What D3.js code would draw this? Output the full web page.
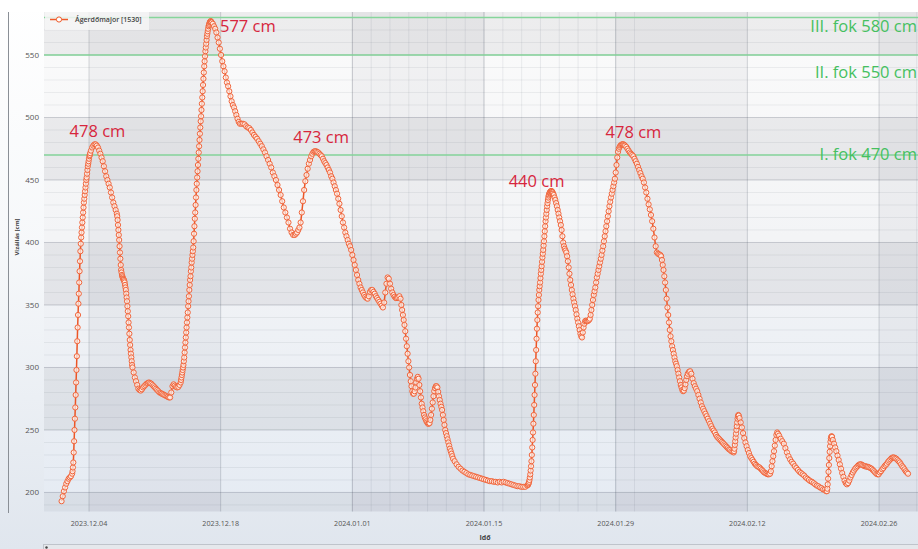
<!DOCTYPE html>
<html><head><meta charset="utf-8">
<script src="https://cdn.jsdelivr.net/npm/d3@7"></script>
<style>html,body{margin:0;padding:0;background:#fff;}svg{display:block;}</style>
</head><body>
<svg id="c" width="918" height="549"></svg>
<script>
// ---------------- DATA ----------------
const seriesName = "Ágerdőmajor [1530]";
const seriesStartUtc = Date.UTC(2023, 11, 1, 0, 0); // hour 0 of the readings
// water level readings: [first hour, hours between readings, values (cm)]
const levelRuns = [
  [2, 3, [193,197,201,204,207,209,211,212,213]],
  [29, 1, [215,217,220,224,232,241,250,259,268,278,288,298,309,321,332,342,351,359,368,377,385,393,399,404,408,412,416,420,424,428,432,435,438,441,444,447,450,452,455,458,461,463,465,467,469,470,471.5]],
  [77, 3, [473.5,476,477.5,478.5,478.5,477.5,476,473.5,471,468,465,461,457,453,450,447,444,440,436,432,429,426,423]],
  [144, 1, [421,418,414,410,406,402,397,392,387,382,378,376,374,373,372,371,370.5,370,369,368,366,364,362,359,356,353,349,345,341,336,332,327,322,318,314,311,308,305,302,300]],
  [186, 3, [296,292,289,286,283,282,281.5,282.5,284,285,286,287,287.5,288,287.5,287,286,285,284,283,282,281,280,279.5,279,278.5,278,277.5,277,276.5,276,276,280,285,286.5,285.5,284.5,284,284.5,286,288]],
  [307, 1, [290,292,294,296,298,300,302,305,308,312,316,320,324,328,332,336,340,344,349,353,357,362,366,370,373,377,380,384,387,390,393,396,401,407,413,419,424,430,436,442,447,452,457,462,467,472,477,482,487,492,497,501,506,511,516,521,526,531,536,541,545,549,553,556,559,562,565,567,569,571,573,574,575,576,576.5,577,577,576.5,576]],
  [388, 3, [575,573,571,568,564,560,555,550,545,541,537,532,528,525,521,517,513,510,508,505,502,499,496.5,495]],
  [461, 4, [495,495,494.5,493,492,491.5,490,488,486,484.5,483,481,479,477,474.5,472,469,466,463,460,456,453,450,446,442,438,433,428,424,420,416,411,408,406,406]],
  [600, 3, [407,408,410,412,416,424,433,442,449,454,459,463,466,469,471,472.5,473,473,472.5,472,471,470,469,467,465,463.5,462,460,458,456,453,451,448,445,442,439,435,431,426,421,416,412,408,405,402,399,397,394,390,386,382,378,374,370,367]],
  [765, 3, [364,362,360,358,356.5,355.5,355,357,360.5,362,362,360.5,359,357,355.5,354,352.5,351,349.5,348,352,360,367,372,371,367,363,360,358,356.5,355.5,355.5,356,357,355]],
  [869, 2, [350,346,342,338,334,329,323,317,311,305,300,294,289,285,281,279,279,281,284,288,291,292.5,291,286,281,276,271,268,265,262,260,258.5,257,256,255,255,255.5,258,262,267,272,277,281,283.5,285,285,284,280.5,277,274,271,268.5,266,262,258,254,250,247.5,245,242.5,240,237.5,235,233,231,229,227]],
  [1005, 5, [225,222.5,220.5,219,217.5,216.5,215.5,214.5,214,213.5,213,212.5,212,211.5,211,210.5,210,209.5,209,209,208.5,208.5,208,208.5,208,208.5,208,207.5,207,206.5,206,205.5,205,205,204.5,204.5,204.5,205.5]],
  [1192, 1, [206,206.5,207.5,208.5,210,212,214.5,217.5,221,225,230,236,242,248,255,262,270,278,286,295,305,314,323,331,338,344,349,354,358,362,365,368,371.5,375,378,381,384.5,388,391,394,397.5,401,405,409,413,417,420,423,426,429,431.5,434,436,437.5,438.5,439.5,440,440.5,441,441,441,441,440.5,440,439]],
  [1258, 2, [438,436,434,431.5,429,426,423,420,417,414,410,405,400,397,395,393.5,392,389,385,380,375,370,366,362,358.5,355,352,349,346,342.5,339,336,333,330,327,325,324]],
  [1332, 2, [328,332,335,337,337.5,337,337,337.5,338,339,342,346,350,354,358,361,364,368,372,375,378,381,384,387,390,393.5,397,401,405,409,413,417,421,425,429,432.5,436,439,442,445,448,451,456,462,468,472.5,475,476.5,477.5,478,478.5,478.5,478.5,478,477.5]],
  [1443, 3, [476.5,475,473.5,472,471,470,469,467,465,463,460.5,458,455.5,453,451,448,444,440,435,430.5,426.5,422,417,411,404,397,392,391,390.5,390]],
  [1532, 2, [389,386,382,378,373,368,362,355,348,342,336,330,325,321,317,314,311,308,305,303,301,298,295,292,289,286,284,282,281,281.5,283.5,286.5,290,293,295]],
  [1603, 3, [296.5,297,295,291,287.5,285,283,281,278,275,272,269,267,265,263,261,259,257,255,253,251,249.5,248,246,244.5,243.5,242.5,241.5,240.5,239.5,238.5,237.5,236.5,235.5,234.5,234,233,232.5,232]],
  [1718, 1, [233,235,238,241,244,247,250,253,256,259,261,262,261.5]],
  [1732, 3, [259.5,256,252,247.5,243.5,240,237,234,231.5,229,227.5,226,224.5,223,222,221,220.5,220,219,218,217,216,215.5,215,214.5,214.5,215]],
  [1812, 2, [217,221,225,229,233,237.5,242,246,248,247]],
  [1833, 4, [245.5,243,241,239,235.5,232,229,226.5,224.5,223,221,219.5,218,216.5,215.5,214.5,213.5,212,211,210,209,208.5,207.5,206.5,205.5,205,204,203.5,202.5,202,201]],
  [1955, 1, [201,203,206.5,211,216.5,222,227.5,232.5,237,240.5,243,244.5,245,244.5]],
  [1970, 3, [242,239,236,233,229.5,226,222.5,219,215.5,212.5,209.5,207.5,206.5,207.5,209.5,212,214,216,217.5,219,220,221,222,222.5,222.5,222,221.5,221,221,220.5,220.5,220,219.5,219,218,217,216,215,214.5,214.5,216,217,218.5,219.5,221,222,223,224.5,225.5,226.5,227.5,228,228,227.5,227,226,225,224,222.5,221,220,218.5,217,216,215]]
];
const xDomainUtc = ["2023-11-29T05:10:00Z", "2024-03-01T03:24:00Z"];
const xTickDates = ["2023-12-04","2023-12-18","2024-01-01","2024-01-15","2024-01-29","2024-02-12","2024-02-26"];
const yDomain = [184.6, 584.4];
const yTicks = [200, 250, 300, 350, 400, 450, 500, 550];
const thresholdValues = [580, 550, 470];
const thresholdLabels = ["III. fok 580 cm", "II. fok 550 cm", "I. fok 470 cm"];
const peakHours = [86, 382, 649, 1251, 1434];
const peakValues = [478, 577, 473, 440, 478];
const peakLabels = ["478 cm", "577 cm", "473 cm", "440 cm", "478 cm"];
const xTitle = "Idő";
const yTitle = "Vízállás [cm]";

// ---------------- LAYOUT ----------------
const W = 918, H = 549;
const P = {left: 44, right: 918, top: 12, bottom: 511.7};
const peakLabelOffsets = [[3,-8,"middle"],[9.5,11,"start"],[6,-8,"middle"],[-14.5,-5.5,"middle"],[10.7,-7,"middle"]];
const thresholdLabelDy = [14.7, 22.8, 5];

const data = [];
levelRuns.forEach(([h0, step, vals]) => vals.forEach((v, i) => {
  data.push({t: new Date(seriesStartUtc + (h0 + i*step)*3600e3), v});
}));

const x = d3.scaleUtc().domain(xDomainUtc.map(s => new Date(s))).range([P.left, P.right]);
const y = d3.scaleLinear().domain(yDomain).range([P.bottom, P.top]);
const tickDates = xTickDates.map(s => new Date(s + "T00:00:00Z"));

const svg = d3.select("#c");
const defs = svg.append("defs");
const pg = defs.append("linearGradient").attr("id","pageGrad").attr("x1",0).attr("y1",0).attr("x2",0).attr("y2",1);
pg.append("stop").attr("offset","0%").attr("stop-color","#ffffff");
pg.append("stop").attr("offset","45%").attr("stop-color","#f6f8fa");
pg.append("stop").attr("offset","100%").attr("stop-color","#e0e6ee");
const plg = defs.append("linearGradient").attr("id","plotGrad").attr("gradientUnits","userSpaceOnUse")
  .attr("x1",0).attr("y1",P.top).attr("x2",0).attr("y2",P.bottom);
plg.append("stop").attr("offset","0%").attr("stop-color","#fbfbfb");
plg.append("stop").attr("offset","45%").attr("stop-color","#f3f4f6");
plg.append("stop").attr("offset","100%").attr("stop-color","#e5ebf3");
defs.append("clipPath").attr("id","clip").append("rect")
  .attr("x",P.left).attr("y",P.top).attr("width",P.right-P.left).attr("height",P.bottom-P.top);

svg.append("rect").attr("width",W).attr("height",H).attr("fill","url(#pageGrad)");
svg.append("rect").attr("width",W).attr("height",P.top).attr("fill","#ffffff");

const g = svg.append("g").attr("clip-path","url(#clip)");
g.append("rect").attr("x",P.left).attr("y",P.top).attr("width",P.right-P.left).attr("height",P.bottom-P.top).attr("fill","url(#plotGrad)");

// vertical bands (odd segments dark)
const xb = [x.domain()[0], ...tickDates, x.domain()[1]];
for (let i = 0; i < xb.length-1; i++) if (i % 2 === 1) {
  g.append("rect").attr("x", x(xb[i])).attr("y", P.top).attr("width", x(xb[i+1]) - x(xb[i])).attr("height", P.bottom-P.top)
    .attr("fill","rgba(40,50,60,0.045)");
}
// horizontal bands (even segments dark)
const yb = [yDomain[0], ...yTicks, yDomain[1]];
for (let i = 0; i < yb.length-1; i++) if (i % 2 === 0) {
  g.append("rect").attr("x", P.left).attr("y", y(yb[i+1])).attr("width", P.right-P.left).attr("height", y(yb[i]) - y(yb[i+1]))
    .attr("fill","rgba(40,50,65,0.065)");
}
// minor grid
const minorX = d3.utcDay.every(2).range(new Date("2023-11-28T00:00:00Z"), x.domain()[1])
  .filter(d => Math.round((d - tickDates[0]) / 864e5) % 2 === 0);
g.selectAll(".mx").data(minorX).enter().append("line")
  .attr("x1", d => x(d)).attr("x2", d => x(d)).attr("y1", P.top).attr("y2", P.bottom)
  .attr("stroke","rgba(70,80,95,0.09)").attr("stroke-width",1);
const minorY = d3.range(190, 590, 10);
g.selectAll(".my").data(minorY).enter().append("line")
  .attr("x1", P.left).attr("x2", P.right).attr("y1", d => y(d)).attr("y2", d => y(d))
  .attr("stroke","rgba(70,80,95,0.08)").attr("stroke-width",1);
// major grid
g.selectAll(".Mx").data(tickDates).enter().append("line")
  .attr("x1", d => x(d)).attr("x2", d => x(d)).attr("y1", P.top).attr("y2", P.bottom)
  .attr("stroke","rgba(60,70,85,0.2)").attr("stroke-width",1);
g.selectAll(".My").data(yTicks).enter().append("line")
  .attr("x1", P.left).attr("x2", P.right).attr("y1", d => y(d)).attr("y2", d => y(d))
  .attr("stroke","rgba(60,70,85,0.16)").attr("stroke-width",1);

// thresholds
g.selectAll(".thr").data(thresholdValues).enter().append("line")
  .attr("x1", P.left).attr("x2", P.right).attr("y1", d => y(d)).attr("y2", d => y(d))
  .attr("stroke","#86d59b").attr("stroke-width",1.5);

// legend
g.append("rect").attr("x",45).attr("y",P.top).attr("width",104).attr("height",18).attr("fill","rgba(246,246,246,0.85)");
g.append("line").attr("x1",50).attr("x2",68).attr("y1",19.5).attr("y2",19.5).attr("stroke","#ef5a2a").attr("stroke-width",1.3);
g.append("circle").attr("cx",59).attr("cy",19.5).attr("r",2.6).attr("fill","#fff").attr("stroke","#ef5a2a").attr("stroke-width",1);
g.append("text").attr("x",75).attr("y",22).text(seriesName)
  .attr("font-family","Open Sans, sans-serif").attr("font-size",7).attr("font-weight",600).attr("fill","#444");

// series
const line = d3.line().x(d => x(d.t)).y(d => y(d.v)).curve(d3.curveMonotoneX);
g.append("path").datum(data).attr("d", line).attr("fill","none").attr("stroke","#ec5526").attr("stroke-width",1.5);
g.selectAll(".pt").data(data).enter().append("circle")
  .attr("cx", d => x(d.t)).attr("cy", d => y(d.v)).attr("r", 2.6)
  .attr("fill","rgba(255,244,238,0.7)").attr("stroke","#f0643a").attr("stroke-width",1);

// peak labels
peakLabels.forEach((txt, i) => {
  const t = new Date(seriesStartUtc + peakHours[i]*3600e3);
  const [dx, dy, anchor] = peakLabelOffsets[i];
  svg.append("text").attr("x", x(t) + dx).attr("y", y(peakValues[i]) + dy).attr("text-anchor", anchor)
    .attr("font-family","Open Sans, sans-serif").attr("font-size",16.5).attr("fill","#d7263d").text(txt);
});
// threshold labels
thresholdLabels.forEach((txt, i) => {
  svg.append("text").attr("x", 917).attr("y", y(thresholdValues[i]) + thresholdLabelDy[i]).attr("text-anchor","end")
    .attr("font-family","Open Sans, sans-serif").attr("font-size",16.5).attr("fill","#45c060").text(txt);
});

// axes labels
svg.selectAll(".yt").data(yTicks).enter().append("text")
  .attr("x", 39).attr("y", d => y(d) + 2.8).attr("text-anchor","end")
  .attr("font-family","Open Sans, sans-serif").attr("font-size",8).attr("fill","#555").text(d => d);
const fmt = d3.utcFormat("%Y.%m.%d");
svg.selectAll(".xt").data(tickDates).enter().append("text")
  .attr("x", d => x(d)).attr("y", 525.5).attr("text-anchor","middle")
  .attr("font-family","Open Sans, sans-serif").attr("font-size",7.2).attr("fill","#555").text(d => fmt(d));
svg.append("text").attr("x", 485).attr("y", 539.5).attr("text-anchor","middle")
  .attr("font-family","Open Sans, sans-serif").attr("font-size",7).attr("font-weight",700).attr("fill","#444").text(xTitle);
svg.append("text").attr("transform","translate(18.5,237) rotate(-90)").attr("text-anchor","middle")
  .attr("font-family","Open Sans, sans-serif").attr("font-size",6).attr("font-weight",700).attr("fill","#444").text(yTitle);

// left frame line and bottom scrollbar
svg.append("line").attr("x1",8.5).attr("x2",8.5).attr("y1",P.top).attr("y2",513).attr("stroke","#8a8f96").attr("stroke-width",1);
svg.append("rect").attr("x",43.5).attr("y",544.5).attr("width",880).attr("height",8).attr("fill","#e5e8ec").attr("stroke","#bfc4cb");
svg.append("circle").attr("cx",46.5).attr("cy",547.5).attr("r",1.2).attr("fill","#444");
</script>
</body></html>
